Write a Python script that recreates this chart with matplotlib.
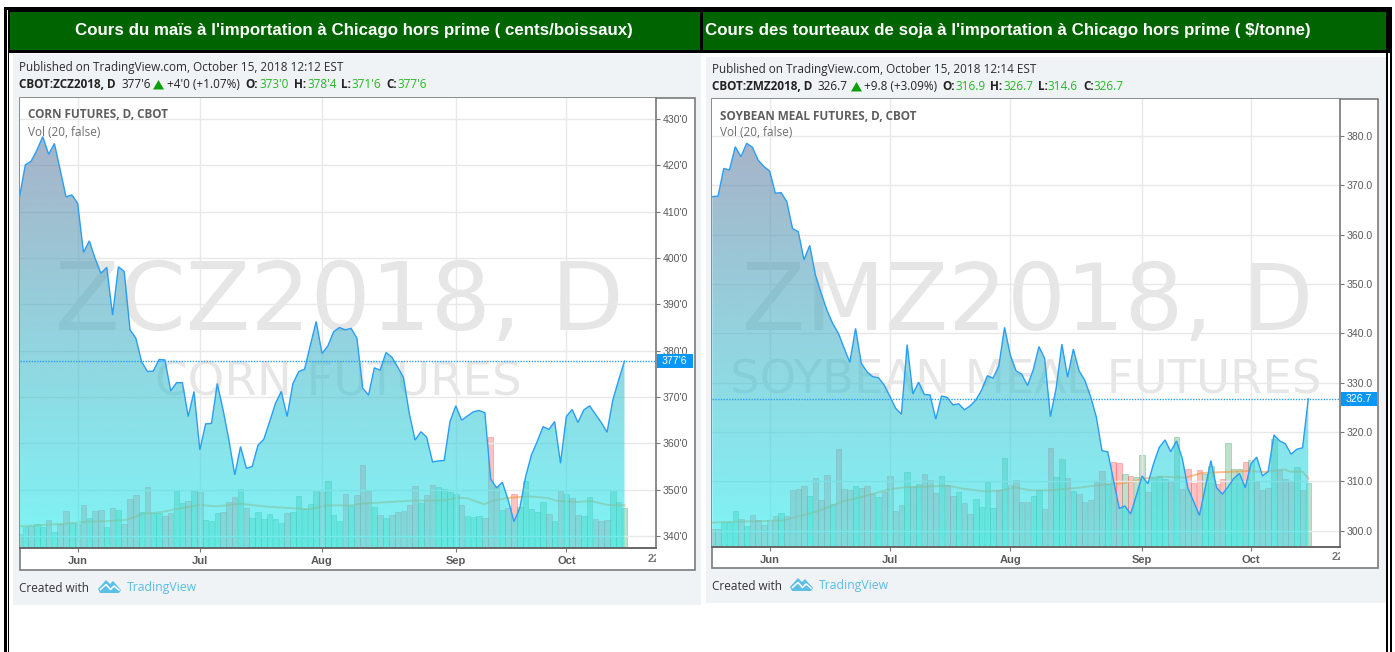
import numpy as np
import matplotlib
matplotlib.use("Agg")
import matplotlib.pyplot as plt
from matplotlib.patches import Rectangle, Polygon
from matplotlib.transforms import Bbox

W, H = 1395, 652

corn_price = [413.2,420.1,420.9,423.3,426.2,422.4,424.7,419.0,413.2,413.6,411.8,401.2,403.7,399.9,396.7,398.0,387.7,398.1,397.1,384.5,
 382.7,377.6,375.5,375.6,378.1,378.0,371.3,373.1,373.1,365.8,371.2,358.6,364.2,364.3,372.9,367.2,360.7,353.2,359.3,354.6,
 355.0,359.6,360.9,364.7,368.6,371.2,365.8,372.9,375.5,376.0,381.2,386.3,379.4,381.0,384.1,385.0,384.5,384.8,
 382.7,371.9,370.4,376.3,375.8,379.6,378.6,376.5,374.2,366.5,360.7,362.5,361.3,356.0,356.2,356.3,364.7,368.1,365.0,365.9,366.8,367.1,
 366.6,352.3,350.4,351.6,347.8,343.1,346.0,352.8,357.5,360.4,363.6,363.0,364.7,355.7,365.8,367.3,364.5,367.2,368.1,366.3,364.5,362.4,369.4,373.7,377.75]
corn_vol = [42,63,65,72,64,84,49,71,111,75,72,128,90,111,114,64,120,114,73,148,159,109,183,105,106,96,105,171,135,140,171,168,84,81,105,108,137,154,177,120,
 90,108,87,102,87,75,105,109,156,116,132,174,168,201,99,81,163,
 127,158,248,172,124,100,89,100,107,110,129,185,135,158,188,182,176,167,161,130,95,92,97,89,332,187,113,119,161,123,202,118,107,138,101,80,172,161,149,100,97,154,88,80,85,175,138,121]
corn_ma_idx = [0,8.1,11.6,15.6,18.5,21.3,24.2,27,31,33.9,37.9,42.5,46.5,50,52.8,57,58.7,62.7,67.3,73,75.3,77,79.9,81.6,83.9,87.4,90.8,92.5,96,98.3,101.1,104]
corn_ma = [65,73,79,81,85,103,107,117,129,125,133,124,120,116,128,128,133,137,142,143,151,149,131,143,150,155,150,141,138,141,129,128]
corn_up_idx = [1,3,4,6,9,12,15,17,21,23,24,27,28,30,32,33,34,38,40,41,42,43,44,45,47,48,49,50,51,53,54,55,
               57,61,63,69,72,73,74,75,77,78,79,83,86,87,88,89,90,92,94,97,98,102,103,104]

soy_price = [367.7,367.8,373.4,373.1,377.8,375.8,378.5,377.7,375.1,373.8,372.9,368.4,368.5,366.7,361.2,360.6,354.9,357.8,351.8,348.1,344.7,342.0,
 340.0,337.0,334.1,341.0,333.9,332.2,331.2,331.0,329.5,327.2,324.8,323.6,337.7,327.7,330.1,327.6,327.5,322.6,327.3,327.0,
 325.5,325.7,324.5,325.3,326.5,328.5,331.4,330.9,333.4,341.2,335.6,332.4,331.7,329.4,332.6,337.3,334.9,323.1,
 328.9,337.8,331.1,336.8,332.4,330.5,327.2,323.1,316.2,316.0,310.3,304.5,305.0,303.4,307.2,311.1,309.5,313.6,316.9,318.4,
 316.0,318.2,314.7,308.6,305.9,303.1,308.6,314.2,308.7,307.4,308.9,310.6,311.6,308.7,313.6,314.9,311.1,312.0,319.4,318.2,317.6,315.5,316.5,316.8,326.7]
soy_vol = [53,53,75,75,107,84,63,96,81,66,81,92,101,92,170,173,182,153,206,140,217,128,293,173,170,182,176,182,160,150,165,212,107,125,226,179,188,220,200,162,212,185,153,164,131,98,145,119,194,116,170,266,185,200,134,134,153,170,113,
 298,210,263,206,167,159,134,140,194,228,190,254,251,218,212,210,275,165,208,212,205,195,330,173,234,192,231,218,243,190,203,311,233,233,254,260,195,170,177,323,231,203,198,240,171,192]
soy_ma_idx = [0,3.7,9.5,12.4,15.3,18.2,21.1,22.9,25.2,28.1,31,33.9,37.4,40.9,43.8,47.3,50.2,52.8,55.4,59,64,68.6,72,75.6,78.5,82.5,85.5,89.5,93.6,96.5,99.7,100.9,103,104]
soy_ma = [73,76,78,80,93,106,125,138,146,160,173,180,181,184,175,167,169,179,170,170,178,188,192,206,211,208,222,225,228,225,233,226,226,205]
soy_up_idx = [2,3,4,6,12,17,21,25,29,34,36,40,43,46,47,48,49,51,56,57,60,61,63,69,72,74,75,77,78,79,81,86,87,90,91,92,94,98,102,104]

month_labels = ["Jun", "Jul", "Aug", "Sep", "Oct"]
month_idx = [10, 31, 52, 75, 94]
corn_ticks = [340,350,360,370,380,390,400,410,420,430]
soy_ticks = [300,310,320,330,340,350,360,370,380]

fig = plt.figure(figsize=(W/100, H/100), dpi=100, facecolor="white")
SANS = "Open Sans"; AR = "Liberation Sans"; FS = 8.5

def pxaxes(x0, y0, x1, y1, z):
    return fig.add_axes([x0/W, 1-y1/H, (x1-x0)/W, (y1-y0)/H], zorder=z)

page = pxaxes(0, 0, W, H, 0)
page.set_xlim(0, W); page.set_ylim(H, 0); page.axis("off")
top = pxaxes(0, 0, W, H, 5)
top.set_xlim(0, W); top.set_ylim(H, 0); top.axis("off"); top.patch.set_alpha(0)

def rect(a, x0, y0, x1, y1, **k):
    a.add_patch(Rectangle((x0, y0), x1-x0, y1-y0, linewidth=k.pop("lw", 0), **k))

# page frame
for x0, x1 in [(3.5, 6.5), (8, 9.2), (1386, 1387.5), (1390, 1392)]:
    rect(page, x0, 7, x1, H, fc="black")
rect(page, 3.5, 7, 1392, 53, fc="black")
rect(page, 6.5, 10, 8, 53, fc="white")
rect(page, 9.5, 12, 700, 50, fc="#006400")
rect(page, 703, 12, 1386, 50, fc="#006400")
page.text(353.5, 30.5, "Cours du maïs à l'importation à Chicago hors prime ( cents/boissaux)", color="white",
          family=AR, weight="bold", size=12.17, ha="center", va="center")
page.text(1007.5, 30.5, "Cours des tourteaux de soja à l'importation à Chicago hors prime ( $/tonne)", color="white",
          family=AR, weight="bold", size=12.17, ha="center", va="center")
rect(page, 13, 54, 701, 604.5, fc="#F0F3F6")
rect(page, 706, 56.5, 1385.5, 603, fc="#F0F3F6")

GREEN = "#22B822"
def header(dy, segs, pub, px):
    top.text(px, dy[0], pub, family=SANS, size=FS, color="#2c2c2c", va="center")
    for x, s, col, w in segs:
        top.text(x, dy[1], s, family=SANS, size=FS, color=col, weight=w, va="center")

def logo(x, y):
    top.add_patch(Polygon([(x,y+2),(x+8,y-7),(x+12,y-3),(x+15,y-6),(x+23,y+3),(x+21,y+6),(x+2,y+6)], closed=True, fc="#5bbfe6", lw=0))
    top.plot([x+2.5,x+8,x+12.5,x+16,x+21],[y+2.5,y-2.5,y+2.5,y-1,y+3], color="white", lw=1.1)

def chart(x0, x1, ybox0, ybox1, ax_x, ax_y, first_px, step, price, vol, up, ma_i, ma_v, ticks, tick_fmt, k_px, y0_val, y0_px,
          wm1, wm1_xy, wm1_size, wm2, wm2_xy, wm2_size, title, title_xy, last_label, lab_y):
    rect(page, x0, ybox0, x1, ybox1, fc="white", ec="#7a7a7a", lw=1.2)
    xmax = (ax_x-first_px)/step
    yb = y0_val-(ax_y-y0_px)/k_px
    yt = y0_val+(y0_px-ybox0)/k_px
    vax = pxaxes(first_px, ybox0, ax_x, ax_y, 1)
    vax.set_facecolor("white")
    vax.set_xlim(0, xmax); vax.set_ylim(0, (ax_y-ybox0)*3)
    vax.set_xticks([]); vax.set_yticks([])
    for s in vax.spines.values(): s.set_visible(False)
    idx = np.arange(len(vol))
    red = (1.0, 80/255, 80/255); grn = (69/255, 169/255, 112/255)
    fc = [grn+(0.35,) if u else red+(0.35,) for u in up]
    ec = [grn+(0.42,) if u else red+(0.42,) for u in up]
    vax.bar(idx, vol, width=0.94, color=fc, edgecolor=ec, linewidth=0.6, zorder=3)
    vax.plot(ma_i, ma_v, color="#ff8f30", alpha=0.55, lw=1.4, zorder=4)

    ax = pxaxes(first_px, ybox0, ax_x, ax_y, 2)
    ax.patch.set_alpha(0)
    ax.set_xlim(0, xmax); ax.set_ylim(yb, yt)
    vax.text(wm1_xy[0], H-wm1_xy[1], wm1, transform=None, size=wm1_size, color="#E6E6E6", family="DejaVu Sans", va="baseline", ha="left", zorder=1)
    vax.text(wm2_xy[0], H-wm2_xy[1], wm2, transform=None, size=wm2_size, color="#E6E6E6", family="DejaVu Sans", va="baseline", ha="left", zorder=1)
    for t in ticks:
        ax.axhline(t, color="#E8E8E8", lw=1, zorder=1)
    for m in month_idx:
        ax.axvline(m, color="#E8E8E8", lw=1, zorder=1)
    ptop = y0_val+(y0_px-130)/k_px
    n = 256
    t = np.linspace(0, 1, n)[:, None]
    c0 = np.array([110, 127, 163])/255; c1 = np.array([40, 238, 240])/255
    rgb = c0*(1-t)+c1*t
    img = np.dstack([rgb[:, 0:1], rgb[:, 1:2], rgb[:, 2:3], np.full((n, 1), 0.6)])
    im = ax.imshow(img, extent=[0, len(price)-1, yb, ptop], aspect="auto", origin="upper", zorder=2, interpolation="bilinear")
    verts = [(0, yb)] + list(zip(range(len(price)), price)) + [(len(price)-1, yb)]
    poly = Polygon(verts, closed=True, transform=ax.transData, fc="none", lw=0)
    ax.add_patch(poly)
    im.set_clip_path(poly)
    ax.set_xlim(0, xmax); ax.set_ylim(yb, yt)
    ax.plot(range(len(price)), price, color="#2A9DF4", lw=1.0, zorder=4, solid_joinstyle="miter")
    ax.axhline(price[-1], color="#2A9DF4", lw=1.0, ls=(0, (1, 1)), zorder=4)
    for s in ("top", "left"): ax.spines[s].set_visible(False)
    ax.spines["right"].set_color("#777777"); ax.spines["bottom"].set_color("#666666")
    ax.spines["right"].set_linewidth(1.2); ax.spines["bottom"].set_linewidth(1.4)
    ax.yaxis.tick_right()
    ax.set_yticks(ticks); ax.set_yticklabels([tick_fmt(v) for v in ticks], family=AR, size=7.6, color="#5a5a5a")
    ax.tick_params(axis="y", length=3, width=0.8, color="#777777", pad=2)
    ax.set_xticks(month_idx); ax.set_xticklabels(month_labels, family=AR, size=8, color="#5a5a5a", weight="bold")
    ax.tick_params(axis="x", length=3, width=0.8, color="#777777", pad=3)
    yp = y0_px+(y0_val-price[-1])*k_px
    rect(top, ax_x+0.7, yp-7.2, ax_x+36.5, yp+7.2, fc="#0a96f5")
    top.text(ax_x+5.5, yp+0.3, last_label, family=AR, size=7.6, color="white", va="center")
    tt = top.text(ax_x-8.3, lab_y, "22", family=AR, size=8, color="#777777", weight="bold", va="center", ha="left")
    tt.set_clip_box(Bbox([[0, 0], [ax_x, H]])); tt.set_clip_on(True)
    top.text(title_xy[0], title_xy[1], title, family=SANS, size=FS, weight="bold", color="#5f5f5f", va="center")
    top.text(title_xy[0], title_xy[1]+17, "Vol (20, false)", family=SANS, size=FS, color="#6f6f6f", va="center")

corn_up = [i in corn_up_idx for i in range(105)]
chart(19.5, 694.5, 98, 570, 656, 548, 19.5, 605.0/104, corn_price, corn_vol, corn_up, corn_ma_idx, corn_ma, corn_ticks,
      lambda v: f"{v}'0", 4.633, 340, 536, "ZCZ2018, D", (55, 330), 68, "CORN FUTURES", (155, 395), 33.6,
      "CORN FUTURES, D, CBOT", (28, 115), "377'6", 559)
soy_up = [i in soy_up_idx for i in range(105)]
chart(712.3, 1378, 99, 568, 1340, 547, 712.3, 596.0/104, soy_price, soy_vol, soy_up, soy_ma_idx, soy_ma, soy_ticks,
      lambda v: f"{v}.0", 4.935, 300, 530.7, "ZMZ2018, D", (742, 330), 66.5, "SOYBEAN MEAL FUTURES", (730, 393), 33.5,
      "SOYBEAN MEAL FUTURES, D, CBOT", (720, 116), "326.7", 557)

DK = "#222222"
header((67, 85), [(19,"CBOT:ZCZ2018, D",DK,"bold"),(121,"377'6",DK,"normal"),(167,"+4'0 (+1.07%)",DK,"normal"),(245,"O:",DK,"bold"),(259,"373'0",GREEN,"normal"),
       (294,"H:",DK,"bold"),(307,"378'4",GREEN,"normal"),(341,"L:",DK,"bold"),(351,"371'6",GREEN,"normal"),(386,"C:",DK,"bold"),(397,"377'6",GREEN,"normal")],
       "Published on TradingView.com, October 15, 2018 12:12 EST", 19)
header((69, 87), [(712,"CBOT:ZMZ2018, D",DK,"bold"),(817,"326.7",DK,"normal"),(864,"+9.8 (+3.09%)",DK,"normal"),(942,"O:",DK,"bold"),(956,"316.9",GREEN,"normal"),
       (990,"H:",DK,"bold"),(1003,"326.7",GREEN,"normal"),(1038,"L:",DK,"bold"),(1048,"314.6",GREEN,"normal"),(1083,"C:",DK,"bold"),(1094,"326.7",GREEN,"normal")],
       "Published on TradingView.com, October 15, 2018 12:14 EST", 712)
for x, y in [(153, 85), (851, 87)]:
    top.add_patch(Polygon([(x, y+4.5), (x+11, y+4.5), (x+5.5, y-5)], closed=True, fc="#0aa00a", lw=0))
for x, y, lx, tx in [(19, 588, 98, 127), (712, 586, 790, 819)]:
    top.text(x, y, "Created with", family=SANS, size=FS, color="#333333", va="center")
    logo(lx, y-1)
    top.text(tx, y, "TradingView", family=SANS, size=8.8, color="#5bbce4", va="center")

fig.savefig("out.png", dpi=100)
